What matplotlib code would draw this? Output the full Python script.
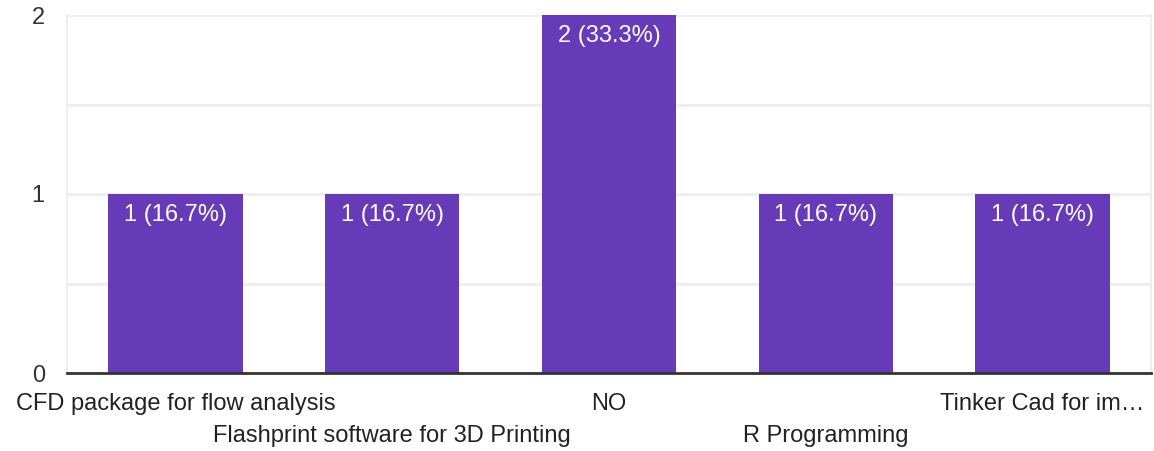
import matplotlib
matplotlib.use("Agg")
import matplotlib.pyplot as plt

categories = ["CFD package for flow analysis", "Flashprint software for 3D Printing",
              "NO", "R Programming", "Tinker Cad for im\u2026"]
counts = [1, 1, 2, 1, 1]
labels = ["1 (16.7%)", "1 (16.7%)", "2 (33.3%)", "1 (16.7%)", "1 (16.7%)"]
yticks = [0, 1, 2]

plt.rcParams['font.family'] = ['Liberation Sans', 'DejaVu Sans']
FS = 17
fig = plt.figure(figsize=(11.54, 4.51), dpi=100)
ax = fig.add_axes([67/1154, 1-373/451, (1151-67)/1154, (373-15)/451])

x = list(range(len(categories)))
bar_color = "#673AB7"
ax.bar(x, counts, width=0.62, color=bar_color, zorder=3)
ax.set_xlim(-0.5, len(categories)-0.5)
ax.set_ylim(0, 2)

for yv in [0.5, 1, 1.5, 2]:
    ax.axhline(yv, color="#eeeeee", lw=2, zorder=1)

for xi, c, lab in zip(x, counts, labels):
    ax.annotate(lab, (xi, c), xytext=(0, -15), textcoords="offset points",
                ha="center", va="center", color="white", fontsize=FS, zorder=4)

ax.set_yticks(yticks)
ax.set_yticklabels([str(v) for v in yticks], fontsize=FS, color="#333333")
ax.tick_params(axis='y', length=0, pad=16)
ax.tick_params(axis='x', length=0)
ax.set_xticks(x)
ax.set_xticklabels([])
for xi, cat in zip(x, categories):
    off = 0 if xi % 2 == 0 else 1
    ax.annotate(cat, (xi, 0), xycoords=('data', 'axes fraction'),
                xytext=(0, -22.5 - off * 23), textcoords='offset points',
                ha='center', va='center', fontsize=FS, color="#222222",
                annotation_clip=False)

ax.spines["top"].set_visible(False)
ax.spines["left"].set_color("#eeeeee")
ax.spines["left"].set_linewidth(1.5)
ax.spines["right"].set_color("#eeeeee")
ax.spines["right"].set_linewidth(1.5)
ax.spines["bottom"].set_color("#333333")
ax.spines["bottom"].set_linewidth(2)
ax.spines["bottom"].set_zorder(5)

fig.savefig("out.png", dpi=100, facecolor="white")
